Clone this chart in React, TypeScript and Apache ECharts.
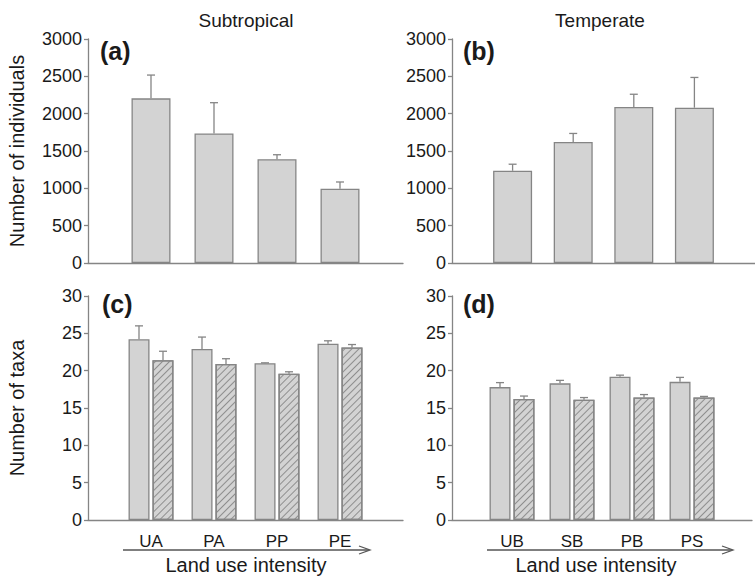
import React, { useEffect, useRef } from 'react';
import * as echarts from 'echarts';

const subCats = ['UA', 'PA', 'PP', 'PE'];
const tempCats = ['UB', 'SB', 'PB', 'PS'];

const subIndividuals = [2205, 1735, 1390, 995];
const subIndividualsSE = [312, 412, 60, 90];
const tempIndividuals = [1235, 1620, 2090, 2080];
const tempIndividualsSE = [88, 115, 170, 405];

const subTaxaSolid = [24.2, 22.9, 21.0, 23.6];
const subTaxaSolidSE = [1.8, 1.6, 0.05, 0.4];
const subTaxaHatched = [21.4, 20.9, 19.6, 23.1];
const subTaxaHatchedSE = [1.2, 0.7, 0.25, 0.4];
const tempTaxaSolid = [17.8, 18.3, 19.2, 18.5];
const tempTaxaSolidSE = [0.6, 0.4, 0.2, 0.6];
const tempTaxaHatched = [16.2, 16.1, 16.4, 16.4];
const tempTaxaHatchedSE = [0.4, 0.3, 0.4, 0.15];

const individualsTicks = { min: 0, max: 3000, interval: 500 };
const taxaTicks = { min: 0, max: 30, interval: 5 };

const FONT = "'Liberation Sans', Arial, Helvetica, sans-serif";
const GRAY = '#858585';
const FILL = '#d3d3d3';
const TEXT = '#1a1a1a';

const pad = (arr: any[]) => [null, ...arr, null];
const padCats = (arr: string[]) => ['', ...arr, ''];

function errorSeries(idx: number, vals: number[], se: number[], offset: number) {
  return {
    type: 'custom',
    xAxisIndex: idx,
    yAxisIndex: idx,
    z: 5,
    silent: true,
    data: vals.map((v, i) => [i + 1, v, v + se[i]]),
    renderItem: (params: any, api: any) => {
      const x = api.value(0);
      const y = api.value(1);
      const up = api.value(2);
      const p0 = api.coord([x, y]);
      const p1 = api.coord([x, up]);
      const cx = p0[0] + offset;
      const st = { stroke: GRAY, lineWidth: 1.3 };
      return {
        type: 'group',
        children: [
          { type: 'line', shape: { x1: cx, y1: p0[1], x2: cx, y2: p1[1] }, style: st },
          { type: 'line', shape: { x1: cx - 4, y1: p1[1], x2: cx + 4, y2: p1[1] }, style: st },
        ],
      };
    },
  };
}

const hatchDecal = {
  symbol: 'rect',
  symbolSize: 1,
  dashArrayX: [1, 0],
  dashArrayY: [0.9, 3.9],
  rotation: -Math.PI / 4,
  color: '#8e8e8e',
  backgroundColor: null,
};

export default function App() {
  const ref = useRef<HTMLDivElement>(null);
  useEffect(() => {
    if (!ref.current) return;
    const chart = echarts.init(ref.current, undefined, { renderer: 'svg' });
    const grids = [
      { left: 88, top: 39, width: 315, height: 224 },
      { left: 452, top: 39, width: 315, height: 224 },
      { left: 88, top: 296, width: 315, height: 224 },
      { left: 452, top: 296, width: 315, height: 224 },
    ];
    const catsFor = [subCats, tempCats, subCats, tempCats];
    const xAxis = grids.map((_, i) => ({
      type: 'category',
      gridIndex: i,
      data: padCats(catsFor[i]),
      boundaryGap: false,
      axisLine: { show: true, lineStyle: { color: GRAY, width: 1.3 } },
      axisTick: { show: false },
      splitLine: { show: false },
      axisLabel: {
        show: i >= 2,
        interval: 0,
        fontSize: 17,
        fontFamily: FONT,
        color: TEXT,
        margin: 13,
      },
    }));
    const yAxis = grids.map((_, i) => {
      const t = i < 2 ? individualsTicks : taxaTicks;
      return {
        type: 'value',
        gridIndex: i,
        min: t.min,
        max: t.max,
        interval: t.interval,
        name: i === 0 ? 'Number of individuals' : i === 2 ? 'Number of taxa' : '',
        nameLocation: 'middle',
        nameGap: 61,
        nameTextStyle: { fontSize: 20, fontFamily: FONT, color: TEXT },
        axisLine: { show: true, lineStyle: { color: GRAY, width: 1.3 } },
        axisTick: { show: true, length: 4, lineStyle: { color: GRAY, width: 1.3 } },
        splitLine: { show: false },
        axisLabel: {
          fontSize: 18,
          fontFamily: FONT,
          color: TEXT,
          margin: 6,
          formatter: (v: number) => String(v),
        },
      };
    });
    const solidStyle = { color: FILL, borderColor: GRAY, borderWidth: 1.3 };
    const hatchStyle = { color: FILL, borderColor: GRAY, borderWidth: 1.3, decal: hatchDecal };
    const series: any[] = [
      { type: 'bar', xAxisIndex: 0, yAxisIndex: 0, barWidth: 39, data: pad(subIndividuals), itemStyle: solidStyle },
      errorSeries(0, subIndividuals, subIndividualsSE, 0),
      { type: 'bar', xAxisIndex: 1, yAxisIndex: 1, barWidth: 39, data: pad(tempIndividuals), itemStyle: solidStyle },
      errorSeries(1, tempIndividuals, tempIndividualsSE, 0),
      { type: 'bar', xAxisIndex: 2, yAxisIndex: 2, barWidth: 21, barGap: '14%', data: pad(subTaxaSolid), itemStyle: solidStyle },
      { type: 'bar', xAxisIndex: 2, yAxisIndex: 2, barWidth: 21, barGap: '14%', data: pad(subTaxaHatched), itemStyle: hatchStyle },
      errorSeries(2, subTaxaSolid, subTaxaSolidSE, -12),
      errorSeries(2, subTaxaHatched, subTaxaHatchedSE, 12),
      { type: 'bar', xAxisIndex: 3, yAxisIndex: 3, barWidth: 21, barGap: '14%', data: pad(tempTaxaSolid), itemStyle: solidStyle },
      { type: 'bar', xAxisIndex: 3, yAxisIndex: 3, barWidth: 21, barGap: '14%', data: pad(tempTaxaHatched), itemStyle: hatchStyle },
      errorSeries(3, tempTaxaSolid, tempTaxaSolidSE, -12),
      errorSeries(3, tempTaxaHatched, tempTaxaHatchedSE, 12),
    ];
    const txt = (text: string, x: number, y: number, size: number, bold = false, align = 'center') => ({
      type: 'text',
      x,
      y,
      style: {
        text,
        fontSize: size,
        fontFamily: FONT,
        fontWeight: bold ? 'bold' : 'normal',
        fill: TEXT,
        align,
        verticalAlign: 'middle',
      },
    });
    const arrow = (x1: number, x2: number, y: number) => [
      { type: 'line', shape: { x1, y1: y, x2: x2 - 1, y2: y }, style: { stroke: '#555', lineWidth: 1.3 } },
      { type: 'polyline', shape: { points: [[x2 - 11, y - 4], [x2, y], [x2 - 11, y + 4]] }, style: { stroke: '#555', lineWidth: 1.3, fill: null } },
    ];
    chart.setOption({
      animation: false,
      backgroundColor: '#ffffff',
      grid: grids,
      xAxis,
      yAxis,
      series,
      graphic: [
        txt('Subtropical', 246, 20, 19),
        txt('Temperate', 600, 20, 19),
        txt('(a)', 100, 51, 25, true, 'left'),
        txt('(b)', 463, 51, 25, true, 'left'),
        txt('(c)', 102, 304, 25, true, 'left'),
        txt('(d)', 463, 304, 25, true, 'left'),
        ...arrow(123, 370, 550),
        ...arrow(487, 733, 550),
        txt('Land use intensity', 246, 565, 20),
        txt('Land use intensity', 596, 565, 20),
      ],
    });
    return () => chart.dispose();
  }, []);
  return <div ref={ref} style={{ position: 'fixed', left: 0, top: 0, width: 755, height: 576 }} />;
}
